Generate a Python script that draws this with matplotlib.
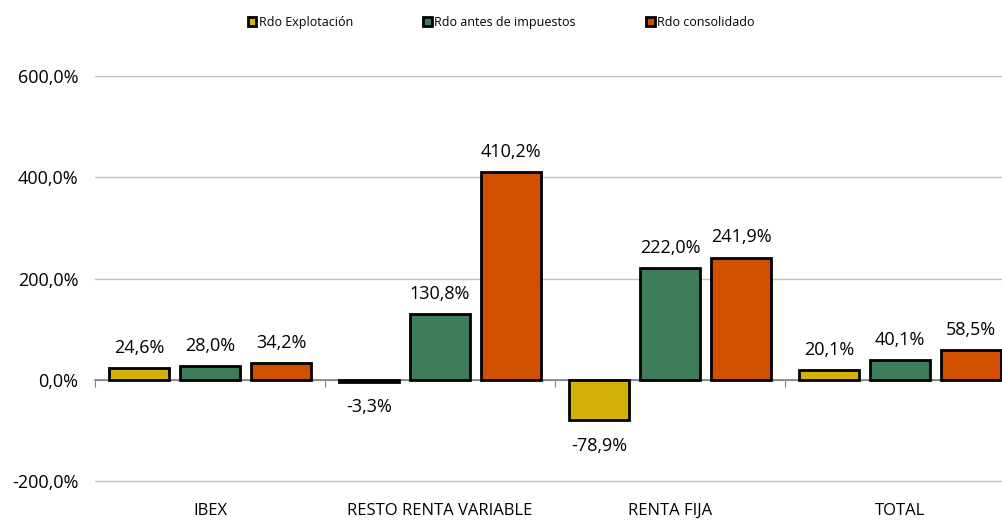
#!/usr/bin/env python3

import matplotlib
matplotlib.use("Agg")
import matplotlib.pyplot as plt
import numpy as np


categories = ["IBEX", "RESTO RENTA VARIABLE", "RENTA FIJA", "TOTAL"]
series_names = ["Rdo Explotación", "Rdo antes de impuestos", "Rdo consolidado"]
rdo_explotacion = [24.6, -3.3, -78.9, 20.1]
rdo_antes_impuestos = [28.0, 130.8, 222.0, 40.1]
rdo_consolidado = [34.2, 410.2, 241.9, 58.5]
y_ticks = [-200, 0, 200, 400, 600]

colors = ["#D4B106", "#3E7D5A", "#D05000"]


def fmt(v: float) -> str:
    return f"{v:.1f}".replace(".", ",") + "%"


def main() -> None:
    plt.rcParams["font.family"] = ["Open Sans", "DejaVu Sans"]

    fig = plt.figure(figsize=(10.02, 5.25), dpi=100)
    ax = fig.add_axes([0.0948, 0.0800, 0.918, 0.775])

    x = np.arange(len(categories))
    width = 0.26
    step = 0.309
    all_series = [rdo_explotacion, rdo_antes_impuestos, rdo_consolidado]

    for i, (vals, name, col) in enumerate(zip(all_series, series_names, colors)):
        pos = x + (i - 1) * step
        ax.bar(pos, vals, width, color=col, edgecolor="black", linewidth=2,
               label=name, zorder=3)
        for p, v in zip(pos, vals):
            if v >= 0:
                ax.annotate(fmt(v), (p, v), xytext=(0, 8), textcoords="offset points",
                            ha="center", va="bottom", fontsize=13)
            else:
                ax.annotate(fmt(v), (p, v), xytext=(0, -12), textcoords="offset points",
                            ha="center", va="top", fontsize=13)

    ax.set_xlim(-0.5, len(categories) - 0.5)
    ax.set_ylim(-203, 600)
    ax.set_yticks(y_ticks)
    ax.set_yticklabels([fmt(v) for v in y_ticks], fontsize=13)
    ax.tick_params(axis="y", length=0, pad=12)
    ax.grid(axis="y", color="#BFBFBF", linewidth=1, zorder=0)

    for s in ["top", "right", "left"]:
        ax.spines[s].set_visible(False)
    ax.spines["bottom"].set_position(("data", 0))
    ax.spines["bottom"].set_color("#808080")
    ax.spines["bottom"].set_linewidth(1.2)
    ax.spines["bottom"].set_zorder(2)
    ax.set_xticks(np.arange(len(categories) + 1) - 0.5)
    ax.set_xticklabels([])
    ax.tick_params(axis="x", length=5, color="#808080", direction="out")

    for xi, cat in zip(x, categories):
        ax.text(xi, -0.068, cat, transform=ax.get_xaxis_transform(),
                ha="center", va="center", fontsize=12)

    fig.legend(loc="center", bbox_to_anchor=(0.5, 0.958), ncol=3, frameon=False,
               fontsize=9, handlelength=0.7, handleheight=0.7, handletextpad=0.2,
               columnspacing=5.6)

    plt.savefig("out.png", dpi=100)


if __name__ == "__main__":
    main()
